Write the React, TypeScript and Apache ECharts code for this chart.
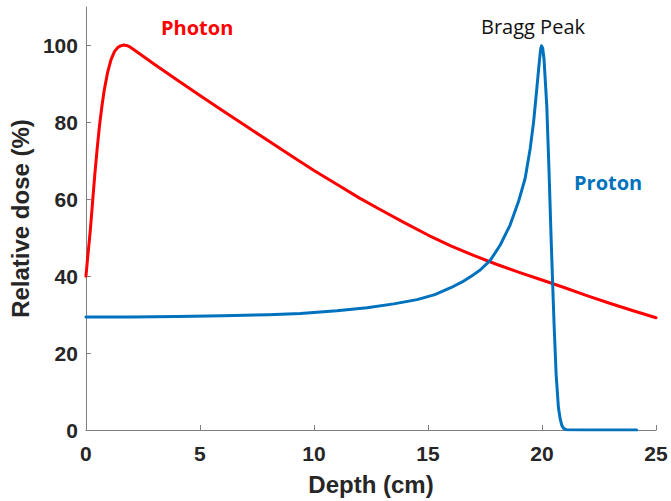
import React, { useEffect, useRef } from "react";
import * as echarts from "echarts";

// Depth-dose curves: depth in cm, relative dose in %
const photonDepth = [
  0, 0.05, 0.1, 0.15, 0.2, 0.3, 0.4, 0.5, 0.6, 0.7, 0.8, 0.95, 1.1, 1.25, 1.4,
  1.52, 1.65, 1.78, 1.9, 2.2, 2.6, 3, 4, 5, 6, 7, 8, 9, 10, 11, 12, 13, 14, 15,
  16, 17, 18, 19, 20, 21, 22, 23, 24, 25,
];
const photonDose = [
  40, 43.2, 46.3, 49.4, 52.5, 60, 67.2, 73.6, 79.4, 84.2, 88.3, 93.0, 96.3,
  98.4, 99.5, 99.9, 100.1, 100.0, 99.7, 98.5, 96.8, 95.1, 91.0, 87.0, 83.0,
  79.1, 75.2, 71.3, 67.5, 63.9, 60.3, 57.0, 53.8, 50.7, 47.9, 45.4, 43.1, 41.0,
  39.0, 37.0, 34.9, 32.9, 31.0, 29.2,
];

const protonDepth = [
  0, 2, 4, 6, 8, 9.41, 11, 12.33, 13.5, 14.52, 15.3, 16, 16.5, 17, 17.29,
  17.73, 18.17, 18.6, 18.97, 19.26, 19.48, 19.63, 19.77, 19.89, 19.94, 19.98,
  20.03, 20.09, 20.21, 20.31, 20.4, 20.46, 20.53, 20.62, 20.72, 20.8, 20.87,
  20.95, 21.08, 22, 23, 24.15,
];
const protonDose = [
  29.4, 29.4, 29.5, 29.7, 30.0, 30.3, 31.0, 31.8, 32.8, 33.9, 35.2, 37, 38.5,
  40.4, 41.6, 44.1, 48.1, 53.3, 59.4, 65.4, 73.1, 80, 88.6, 96.2, 99.0, 99.9,
  99.3, 96.4, 84.3, 67.1, 49.9, 39.5, 27.5, 14.5, 5.9, 2.8, 1.2, 0.4, 0.05, 0,
  0, 0,
];

const xTicks = [0, 5, 10, 15, 20, 25];
const yTicks = [0, 20, 40, 60, 80, 100];

const annotations = [
  { text: "Photon", color: "#ff0000", weight: "bold" },
  { text: "Bragg Peak", color: "#111111", weight: "normal" },
  { text: "Proton", color: "#0072bd", weight: "bold" },
];

const pairs = (xs: number[], ys: number[]) => xs.map((x, i) => [x, ys[i]]);

const axisColor = "#7f7f7f";
const textColor = "#262626";
const tickFont = "'Liberation Sans', Arial, sans-serif";

export default function App() {
  const ref = useRef<HTMLDivElement>(null);

  useEffect(() => {
    if (!ref.current) return;
    const chart = echarts.init(ref.current, undefined, { renderer: "svg" });
    chart.setOption({
      animation: false,
      backgroundColor: "#ffffff",
      grid: { left: 85, right: 15, top: 7, bottom: 68, containLabel: false },
      xAxis: {
        type: "value",
        min: 0,
        max: 25,
        interval: 5,
        name: "Depth (cm)",
        nameLocation: "middle",
        nameGap: 42,
        nameTextStyle: {
          fontSize: 24,
          fontWeight: "bold",
          fontFamily: tickFont,
          color: textColor,
        },
        axisLine: { show: true, onZero: false, lineStyle: { color: axisColor, width: 1 } },
        axisTick: { show: true, inside: true, length: 5, lineStyle: { color: axisColor }, customValues: xTicks },
        axisLabel: {
          fontSize: 21,
          fontWeight: "bold",
          fontFamily: tickFont,
          color: textColor,
          margin: 13,
          customValues: xTicks,
        },
        splitLine: { show: false },
      },
      yAxis: {
        type: "value",
        min: 0,
        max: 110,
        interval: 20,
        name: "Relative dose (%)",
        nameLocation: "middle",
        nameGap: 52,
        nameTextStyle: {
          fontSize: 24,
          fontWeight: "bold",
          fontFamily: tickFont,
          color: textColor,
        },
        axisLine: { show: true, onZero: false, lineStyle: { color: axisColor, width: 1 } },
        axisTick: { show: true, inside: true, length: 5, lineStyle: { color: axisColor }, customValues: yTicks },
        axisLabel: {
          fontSize: 21,
          fontWeight: "bold",
          fontFamily: tickFont,
          color: textColor,
          margin: 8,
          customValues: yTicks,
        },
        splitLine: { show: false },
      },
      series: [
        {
          name: "Photon",
          type: "line",
          data: pairs(photonDepth, photonDose),
          showSymbol: false,
          lineStyle: { color: "#ff0000", width: 3, join: "round", cap: "round" },
          z: 2,
        },
        {
          name: "Proton",
          type: "line",
          data: pairs(protonDepth, protonDose),
          showSymbol: false,
          lineStyle: { color: "#0072bd", width: 3, join: "round", cap: "round" },
          z: 3,
        },
      ],
      graphic: [
        {
          type: "text",
          left: 161,
          top: 17,
          style: {
            text: annotations[0].text,
            fill: annotations[0].color,
            fontSize: 20,
            fontWeight: annotations[0].weight,
            fontFamily: "'Open Sans', sans-serif",
          },
        },
        {
          type: "text",
          left: 481,
          top: 16,
          style: {
            text: annotations[1].text,
            fill: annotations[1].color,
            fontSize: 20,
            fontWeight: annotations[1].weight,
            fontFamily: "'Open Sans', sans-serif",
          },
        },
        {
          type: "text",
          left: 574,
          top: 172,
          style: {
            text: annotations[2].text,
            fill: annotations[2].color,
            fontSize: 20,
            fontWeight: annotations[2].weight,
            fontFamily: "'Open Sans', sans-serif",
          },
        },
      ],
    });
    return () => chart.dispose();
  }, []);

  return <div ref={ref} style={{ width: 671, height: 501, position: "absolute", left: 0, top: 0 }} />;
}
